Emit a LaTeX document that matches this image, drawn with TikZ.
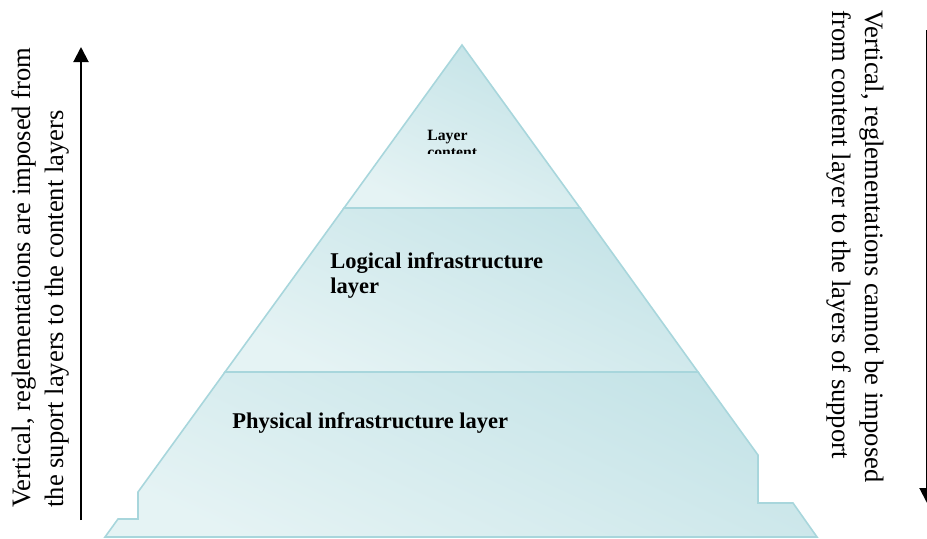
\documentclass[tikz,border=0pt]{standalone}
\usepackage{fontspec}
\setmainfont{Liberation Serif}
\usepackage{tikz}
\usetikzlibrary{arrows.meta}
\definecolor{pyredge}{RGB}{168,214,220}
\definecolor{pyrlight}{RGB}{229,243,244}
\definecolor{pyrdark}{RGB}{196,227,231}

\begin{document}
\begin{tikzpicture}[x=0.5pt,y=-0.5pt,
  band/.style={draw=pyredge,line width=0.8pt,top color=pyrdark,bottom color=pyrlight,shading angle=-25},
  sidetext/.style={font=\fontsize{13.3}{15}\selectfont,inner sep=0pt,anchor=base west},
  layertext/.style={font=\bfseries\fontsize{11.25}{12.5}\selectfont,inner sep=0pt,anchor=base west,align=left},
  arrow/.style={line width=1pt,-{Triangle[width=7.5pt,length=7.5pt]}}]
\useasboundingbox (0,0) rectangle (927,538);

% pyramid, top band down to the base
\draw[band] (462,45) -- (580,208) -- (344,208) -- cycle;
\draw[band] (344,208) -- (580,208) -- (698,372) -- (225,372) -- cycle;
\draw[band] (225,372) -- (698,372) -- (758,455) -- (758,503) -- (793,503) -- (817,537)
  -- (105,537) -- (118,519) -- (138,519) -- (138,492) -- cycle;

\begin{scope}
\clip (400,100) rectangle (520,153);
\node[font=\bfseries\fontsize{7.85}{8.3}\selectfont,inner sep=0pt,anchor=base west,align=left] (content) at (427,157.5) {Layer\\content};
\end{scope}
\node[layertext] (logical) at (330,293) {Logical infrastructure\\layer};
\node[layertext] (physical) at (232,428) {Physical infrastructure layer};

% arrows at the sides
\coordinate (upstart) at (81,520);
\coordinate (upend) at (81,47);
\draw[arrow] (upstart) -- (upend);
\coordinate (downstart) at (927,30);
\coordinate (downend) at (927,503);
\draw[arrow] (downstart) -- (downend);

\foreach \x/\t in {31/{Vertical, reglementations are imposed from},63/{the suport layers to the content layers}}
  \node[sidetext,rotate=90] (left\x) at (\x,508) {\t};
\foreach \x/\t in {865/{Vertical, reglementations cannot be imposed},832/{from content layer to the layers of support}}
  \node[sidetext,rotate=-90] (right\x) at (\x,10) {\t};
\end{tikzpicture}
\end{document}
